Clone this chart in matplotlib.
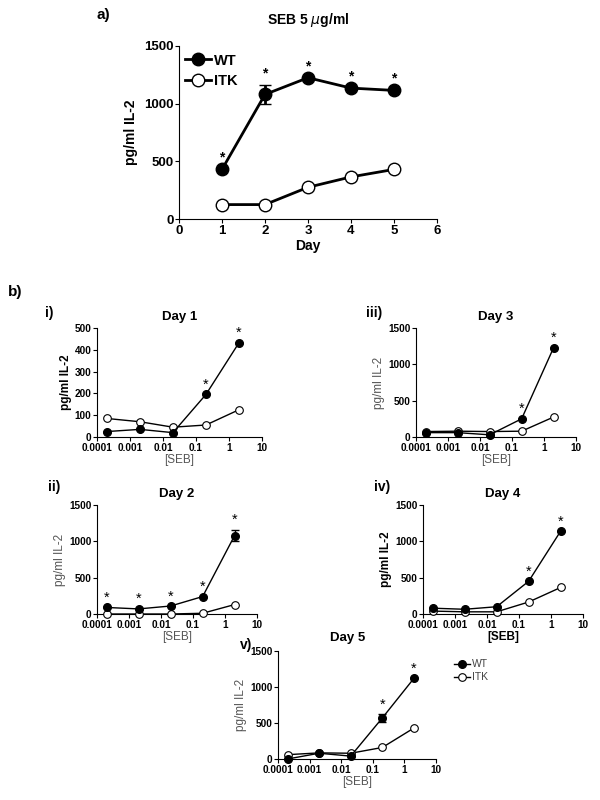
import numpy as np
from matplotlib import pyplot as plt
from matplotlib.lines import Line2D

plt.rcParams['font.family'] = ['Liberation Sans', 'DejaVu Sans']

# panel a: IL-2 over days at SEB 5 ug/ml
days = [1, 2, 3, 4, 5]
wt_days = [430, 1080, 1225, 1135, 1115]
wt_days_err = [0, 80, 0, 0, 0]
itk_days = [125, 125, 275, 365, 430]
sig_days = [True, True, True, True, True]

# panel b: dose response per day
seb = [0.0002, 0.002, 0.02, 0.2, 2]
wt_d1 = [25, 35, 20, 195, 432]
itk_d1 = [85, 70, 45, 55, 125]
wt_d2 = [90, 70, 110, 240, 1080]
wt_d2_err = [0, 0, 0, 0, 80]
itk_d2 = [0, 0, 0, 10, 130]
wt_d3 = [60, 60, 30, 250, 1230]
itk_d3 = [75, 80, 75, 80, 275]
wt_d4 = [80, 65, 100, 450, 1140]
itk_d4 = [40, 30, 30, 165, 365]
wt_d5 = [0, 80, 40, 570, 1120]
wt_d5_err = [0, 0, 0, 55, 0]
itk_d5 = [60, 85, 80, 160, 430]

sig_d1 = [False, False, False, True, True]
sig_d2 = [True, True, True, True, True]
sig_d3 = [False, False, False, True, True]
sig_d4 = [False, False, False, True, True]
sig_d5 = [False, False, False, True, True]

seb_ticks = [0.0001, 0.001, 0.01, 0.1, 1, 10]
seb_labels = ['0.0001', '0.001', '0.01', '0.1', '1', '10']

fig = plt.figure(figsize=(6, 8), dpi=100)


def px_axes(x0, y0, x1, y1):
    return fig.add_axes([x0 / 600, 1 - y1 / 800, (x1 - x0) / 600, (y1 - y0) / 800])


def style(ax, fs):
    for s in ['top', 'right']:
        ax.spines[s].set_visible(False)
    ax.spines['left'].set_linewidth(0.8)
    ax.spines['bottom'].set_linewidth(0.8)
    ax.tick_params(direction='out', length=3, width=0.8, labelsize=fs, pad=1)
    for lab in ax.get_xticklabels() + ax.get_yticklabels():
        lab.set_fontweight('bold')


# ---- panel a ----
ax = px_axes(179, 46, 437, 219)
ax.errorbar(days, wt_days, yerr=wt_days_err, color='black', marker='o', ms=9,
            mfc='black', mec='black', lw=2, capsize=4, clip_on=False)
ax.plot(days, itk_days, color='black', marker='o', ms=9, mfc='white',
        mec='black', mew=1, lw=2, clip_on=False)
for d, v, e, s in zip(days, wt_days, wt_days_err, sig_days):
    if s:
        ax.text(d, v + e + 40, '*', ha='center', va='bottom', fontsize=10, fontweight='bold')
ax.set_xlim(0, 6)
ax.set_ylim(0, 1500)
ax.set_xticks(range(7))
ax.set_yticks([0, 500, 1000, 1500])
style(ax, 9.5)
ax.set_xlabel('Day', fontsize=10, fontweight='bold', labelpad=2)
ax.set_ylabel('pg/ml IL-2', fontsize=10, fontweight='bold', labelpad=4)
ax.set_title('SEB 5 $\\mu$g/ml', fontsize=10, fontweight='bold', pad=16)
a_handles = [Line2D([], [], color='black', marker='o', ms=9, mfc='black', lw=2),
             Line2D([], [], color='black', marker='o', ms=9, mfc='white', lw=2, mew=1)]
leg = ax.legend(a_handles, ['WT', 'ITK'], loc='upper left', bbox_to_anchor=(0.0, 0.99),
                frameon=False, fontsize=10.5, handlelength=1.8, handletextpad=0.2,
                borderaxespad=0, labelspacing=0.45)
for t in leg.get_texts():
    t.set_fontweight('bold')
fig.text(97 / 600, 1 - 15 / 800, 'a)', fontsize=11, fontweight='bold', va='center')
fig.text(8 / 600, 1 - 292 / 800, 'b)', fontsize=11, fontweight='bold', va='center')


def dose_panel(box, wt, itk, sig, title, roman, roman_xy, ymax, yticks,
               wt_err=None, ylab_bold=False, xlab_bold=False, title_dy=6):
    ax = px_axes(*box)
    if wt_err is None:
        wt_err = [0] * len(wt)
    ax.errorbar(seb, wt, yerr=wt_err, color='black', marker='o', ms=5.5,
                mfc='black', mec='black', lw=1, capsize=3, clip_on=False, zorder=3)
    ax.plot(seb, itk, color='black', marker='o', ms=5.5, mfc='white', mec='black',
            mew=0.8, lw=1, clip_on=False, zorder=3)
    for x, v, e, s in zip(seb, wt, wt_err, sig):
        if s:
            ax.text(x, v + e + ymax * 0.025, '*', ha='center', va='bottom', fontsize=10.5)
    ax.set_xscale('log')
    ax.set_xlim(0.0001, 10)
    ax.set_ylim(0, ymax)
    ax.set_xticks(seb_ticks)
    ax.set_xticklabels(seb_labels)
    ax.minorticks_off()
    ax.set_yticks(yticks)
    style(ax, 7.2)
    ax.set_xlabel('[SEB]', fontsize=8.5, fontweight='bold' if xlab_bold else 'normal',
                  color='black' if xlab_bold else '#555555', labelpad=1)
    ax.set_ylabel('pg/ml IL-2', fontsize=8.5, fontweight='bold' if ylab_bold else 'normal',
                  color='black' if ylab_bold else '#555555', labelpad=2)
    ax.set_title(title, fontsize=9.5, fontweight='bold', pad=title_dy)
    fig.text(roman_xy[0] / 600, 1 - roman_xy[1] / 800, roman, fontsize=10,
             fontweight='bold', va='center')
    return ax


dose_panel((97, 328, 262, 437), wt_d1, itk_d1, sig_d1, 'Day 1', 'i)', (45, 313),
           500, [0, 100, 200, 300, 400, 500], ylab_bold=True)
dose_panel((416, 328, 576, 437), wt_d3, itk_d3, sig_d3, 'Day 3', 'iii)', (366, 313),
           1500, [0, 500, 1000, 1500])
dose_panel((97, 505, 257, 614), wt_d2, itk_d2, sig_d2, 'Day 2', 'ii)', (48, 487),
           1500, [0, 500, 1000, 1500], wt_err=wt_d2_err)
dose_panel((423, 505, 583, 614), wt_d4, itk_d4, sig_d4, 'Day 4', 'iv)', (374, 487),
           1500, [0, 500, 1000, 1500], ylab_bold=True, xlab_bold=True)
dose_panel((278, 651, 436, 759), wt_d5, itk_d5, sig_d5, '', 'v)', (240, 645),
           1500, [0, 500, 1000, 1500], wt_err=wt_d5_err)
fig.text(348 / 600, 1 - 638 / 800, 'Day 5', fontsize=9.5, fontweight='bold',
         ha='center', va='center')

# legend for panel b
handles = [Line2D([], [], color='black', marker='o', ms=5.5, mfc='black', lw=1),
           Line2D([], [], color='black', marker='o', ms=5.5, mfc='white', lw=1, mew=0.8)]
fig.legend(handles, ['WT', 'ITK'], loc='upper left',
           bbox_to_anchor=(450 / 600, 1 - 655 / 800), frameon=False, fontsize=7.5,
           handlelength=1.5, handletextpad=0.2, labelspacing=0.3, borderaxespad=0,
           labelcolor='#444444')

fig.savefig('out.png', dpi=100)
